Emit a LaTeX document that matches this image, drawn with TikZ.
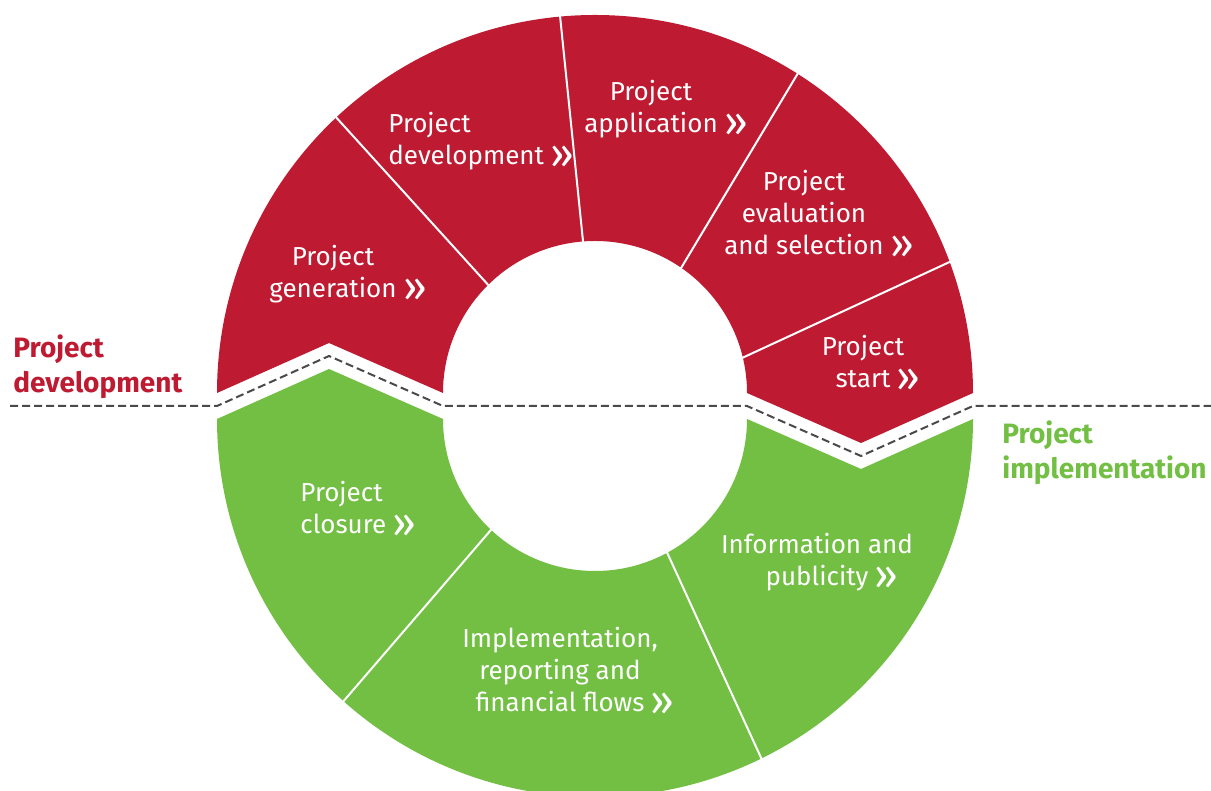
\documentclass[tikz,border=0pt]{standalone}
\usepackage{fontspec}
\setmainfont{Fira Sans}
\usetikzlibrary{calc}
\definecolor{segred}{HTML}{BE1B32}
\definecolor{seggreen}{HTML}{72BF44}
\definecolor{cutgray}{HTML}{4A4A4A}
\newcommand{\Ro}{378}
\newcommand{\Ri}{152}
\newcommand{\nxt}{\rlap{\hspace{0.25em}\raisebox{-0.15em}{\fontsize{21}{21}\selectfont »}}}
\tikzset{
  redseg/.style={fill=segred,draw=none},
  greenseg/.style={fill=seggreen,draw=none},
  divider/.style={draw=white,line width=1pt},
  cutline/.style={draw=cutgray,line width=1pt,dash pattern=on 4pt off 2pt},
  stagetext/.style={text=white,font=\fontsize{13}{16}\selectfont,align=center,inner sep=0pt},
  stageleft/.style={stagetext,align=left,anchor=west},
  phaselabel/.style={font=\fontsize{14}{17.5}\selectfont\bfseries,align=left,anchor=west,inner sep=0pt}
}
\begin{document}
\begin{tikzpicture}[x=0.5pt,y=0.5pt]
  \useasboundingbox (0,0) rectangle (1211,791);
  \coordinate (C) at (595,398);
  \coordinate (G) at (595,372);

  % upper half
  \begin{scope}[shift={(C)}]
    \fill[redseg] (180:\Ro) arc[start angle=180,end angle=0,radius=\Ro]
      -- (266,-50) -- (\Ri,0) arc[start angle=0,end angle=180,radius=\Ri]
      -- (-266,50) -- cycle;
    \draw[divider] (134.7:\Ri-2) -- (133.2:\Ro+2);
    \draw[divider] (94.5:\Ri-2) -- (95.3:\Ro+2);
    \draw[divider] (55.4:\Ri-2) -- (57.6:\Ro+2);
    \draw[divider] (13.3:\Ri-2) -- (20.3:\Ro+2);
  \end{scope}

  % lower half
  \begin{scope}[shift={(G)}]
    \fill[greenseg] (180:\Ro) -- (-266,50) -- (-\Ri,0)
      arc[start angle=180,end angle=360,radius=\Ri]
      -- (266,-50) -- (\Ro,0) arc[start angle=0,end angle=-180,radius=\Ro] -- cycle;
    \draw[divider] (226.8:\Ri-2) -- (228.3:\Ro+2);
    \draw[divider] (298.4:\Ri-2) -- (296.1:\Ro+2);
  \end{scope}

  \begin{scope}[shift={(C)}]
    \draw[cutline] (-585,-13) -- (-\Ro,-13) -- (-266,37) -- (-\Ri,-13)
      -- (\Ri,-13) -- (266,-63) -- (\Ro,-13) -- (616,-13);
  \end{scope}

  \node[stagetext] (gen) at (333,516.5) {Project\\generation\nxt};
  \node[stageleft] (dev) at (388,650) {Project\\development\nxt};
  \node[stagetext] (app) at (651,681.5) {Project\\application\nxt};
  \node[stagetext] (eval) at (804,576.5) {Project\\evaluation\\and selection\nxt};
  \node[stagetext] (start) at (863,427.5) {Project\\start\nxt};
  \node[stageleft] (clos) at (300,282) {Project\\closure\nxt};
  \node[stagetext] (impl) at (560,119.5) {Implementation,\\reporting and\\financial flows\nxt};
  \node[stagetext] (info) at (817,228.5) {Information and\\publicity\nxt};

  \node[phaselabel,text=segred] (pdev) at (13,424) {Project\\development};
  \node[phaselabel,text=seggreen] (pimpl) at (1002,338) {Project\\implementation};
\end{tikzpicture}
\end{document}
